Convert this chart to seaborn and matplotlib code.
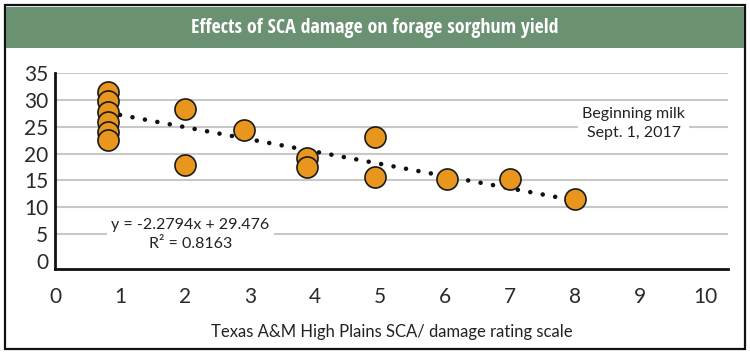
import matplotlib
matplotlib.use("Agg")
import matplotlib.pyplot as plt
import seaborn as sns
import pandas as pd
from matplotlib.patches import Rectangle
from matplotlib import font_manager
from matplotlib.textpath import TextPath

# ---- data ----
rating = [0.82, 0.82, 0.82, 0.82, 0.82, 0.82, 2.0, 2.0, 2.91, 3.88, 3.88, 4.92, 4.92, 6.03, 7.0, 8.0]
yield_t = [31.5, 29.8, 27.8, 25.9, 24.1, 22.5, 28.3, 17.9, 24.3, 19.2, 17.5, 23.1, 15.7, 15.2, 15.3, 11.5]
slope = -2.2794
intercept = 29.476
r2 = 0.8163
trend_x = [1.0, 8.0]
x_ticks = list(range(0, 11))
y_ticks = list(range(0, 36, 5))

title = "Effects of SCA damage on forage sorghum yield"
xlabel = "Texas A&M High Plains SCA/ damage rating scale"
note = "Beginning milk\nSept. 1, 2017"

df = pd.DataFrame({"rating": rating, "yield": yield_t})
trend_y = [slope * v + intercept for v in trend_x]
tdf = pd.DataFrame({"x": trend_x, "y": trend_y})

sns.set_theme(style="white")
plt.rcParams["font.family"] = ["Lato", "DejaVu Sans"]


def _wnum(w):
    if isinstance(w, (int, float)):
        return w
    return font_manager.weight_dict.get(str(w).lower(), 400)


# choose the narrowest bold condensed face installed for the title
TARGET_W = 364.0  # px
ok_fam = ("noto sans", "roboto", "open sans", "dejavu", "liberation", "lato", "inter")
cands = []
for f in font_manager.fontManager.ttflist:
    n = (f.name + " " + f.fname).lower()
    if "mono" in n or "cjk" in n or f.style != "normal":
        continue
    if not ("condensed" in n or "narrow" in n):
        continue
    if not any(k in f.name.lower() for k in ok_fam):
        continue
    if not (600 <= _wnum(f.weight) <= 800):
        continue
    if f.fname not in cands:
        cands.append(f.fname)

best = None
for fn in cands[:12]:
    try:
        tp = TextPath((0, 0), title, size=16, prop=font_manager.FontProperties(fname=fn))
        w = tp.get_extents().width * 100 / 72
    except Exception:
        continue
    if w > 0 and (best is None or w < best[0]):
        best = (w, fn)

if best is not None:
    size = min(17.0, 16 * TARGET_W / best[0])
    title_prop = font_manager.FontProperties(fname=best[1], size=size)
else:
    title_prop = font_manager.FontProperties(family=["Roboto", "DejaVu Sans"], weight="bold", size=13)

W, H = 750, 355
fig = plt.figure(figsize=(W / 100, H / 100), dpi=100)
fig.patch.set_facecolor("white")

fig.add_artist(Rectangle((5 / W, 1 - 349 / H), 740 / W, 344 / H, transform=fig.transFigure,
                         fill=False, edgecolor="#111111", linewidth=1.6))
fig.add_artist(Rectangle((6 / W, 1 - 48 / H), 738 / W, 41 / H, transform=fig.transFigure,
                         facecolor="#6a9172", edgecolor="none"))
fig.text(0.5, 1 - 28 / H, title, ha="center", va="center", color="white",
         fontproperties=title_prop)

ax = fig.add_axes([55 / W, 1 - 269 / H, 673 / W, 196 / H])
ax.set_facecolor("white")

ax.set_xlim(0, 10.35)
ax.set_ylim(-1.5, 35)
ax.set_xticks(x_ticks)
ax.set_yticks(y_ticks)
ax.set_xticklabels([str(v) for v in x_ticks], fontsize=15, color="#2a2a2a")
ax.set_yticklabels([str(v) for v in y_ticks], fontsize=15, color="#2a2a2a")

for v in y_ticks[1:]:
    ax.axhline(v, color="#c8c8c8", linewidth=1.5, zorder=0)

for s in ["top", "right"]:
    ax.spines[s].set_visible(False)
for s in ["left", "bottom"]:
    ax.spines[s].set_color("#111111")
    ax.spines[s].set_linewidth(2)

ax.tick_params(axis="x", direction="out", length=4, width=1, color="#bbbbbb", pad=9)
ax.tick_params(axis="y", length=0, pad=5)

sns.lineplot(data=tdf, x="x", y="y", ax=ax, color="#111111", linewidth=3.3,
             linestyle=(0, (0.01, 2.75)), zorder=2)
ax.get_lines()[-1].set_dash_capstyle("round")

sns.scatterplot(data=df, x="rating", y="yield", ax=ax, s=230, color="#e8961e",
                edgecolor="#1a1a1a", linewidth=1.2, zorder=3, legend=False)

ax.set_xlabel(xlabel, fontsize=12, color="#222222", labelpad=12)
ax.set_ylabel("")

ax.text(2.08, 5.0, f"y = {slope}x + {intercept}\nR² = {r2}",
        ha="center", va="center", fontsize=11.5, color="#222222", linespacing=1.45,
        bbox=dict(facecolor="white", edgecolor="none", pad=3), zorder=4)
ax.text(8.9, 25.6, note, ha="center", va="center", fontsize=11.5, color="#222222",
        linespacing=1.45, bbox=dict(facecolor="white", edgecolor="none", pad=3), zorder=4)

fig.savefig("out.png", dpi=100, facecolor="white")
